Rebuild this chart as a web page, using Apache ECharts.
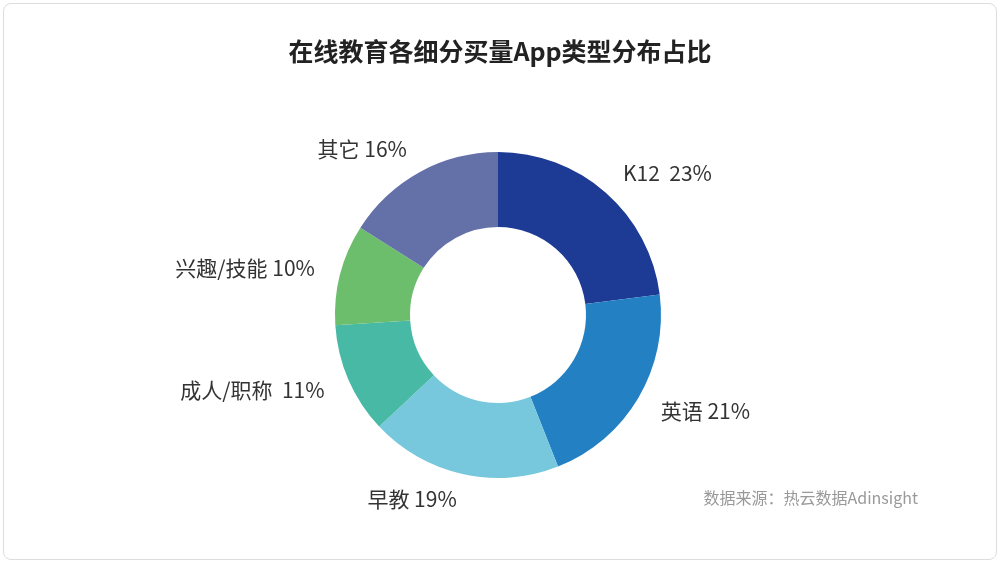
<!DOCTYPE html>
<html><head><meta charset="utf-8">
<script src="https://cdn.jsdelivr.net/npm/echarts@6/dist/echarts.min.js"></script>
<style>html,body{margin:0;padding:0;background:#fff}#c{width:1000px;height:563px}
#f{position:absolute;left:3px;top:3px;width:992px;height:555px;border:1px solid #ddd;border-radius:8px;pointer-events:none}</style>
</head><body><div id="c"></div><div id="f"></div>
<script>
const categories=['K12','英语','早教','成人/职称','兴趣/技能','其它'];
const values=[23,21,19,11,10,16];
const labels=['K12  23%','英语 21%','早教 19%','成人/职称  11%','兴趣/技能 10%','其它 16%'];
const colors=['#1d3a94','#2381c3','#77c8dd','#47b9a5','#6cbd6c','#6470a8'];
const chart=echarts.init(document.getElementById('c'));
chart.setOption({
  title:{text:'在线教育各细分买量App类型分布占比',left:'center',top:34,textStyle:{fontFamily:'Noto Sans CJK SC',fontSize:25,fontWeight:'bold',color:'#222'}},
  graphic:[{type:'text',right:82,top:490,style:{text:'数据来源：热云数据Adinsight',fill:'#999',font:'16px "Noto Sans CJK SC"'}}],
  series:[{type:'pie',center:[498,315],radius:[88,163],startAngle:90,clockwise:true,
    label:{show:true,position:'outside',formatter:p=>labels[p.dataIndex],fontFamily:'Noto Sans CJK SC',fontSize:21,color:'#333',distanceToLabelLine:0},
    labelLine:{show:false,length:26,length2:0},
    data:categories.map((c,i)=>({name:c,value:values[i],itemStyle:{color:colors[i]}}))}]
});
</script></body></html>
